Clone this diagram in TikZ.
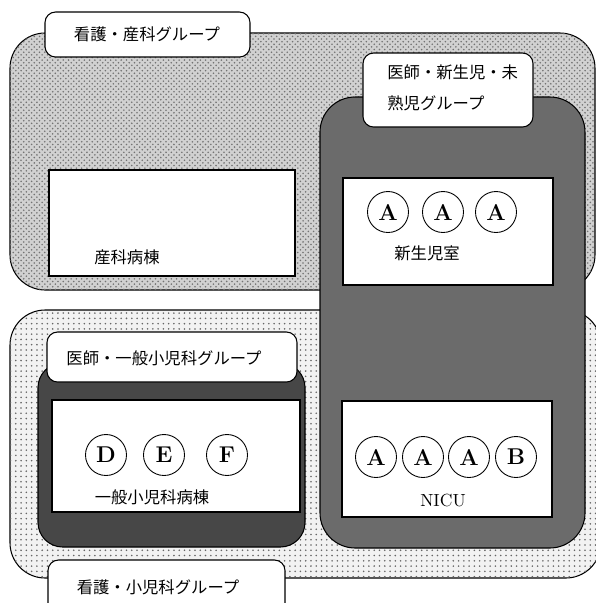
\documentclass[tikz,border=0pt]{standalone}
\usepackage{fontspec}
\newfontfamily\jp{Noto Sans CJK JP}
\usetikzlibrary{patterns}
\tikzset{
	jptext/.style={font=\jp\fontsize{9.3}{17.6}\selectfont, inner sep=0pt},
	patient/.style={draw, circle, fill=white, line width=0.5pt, minimum size=0.82cm, inner sep=0pt, font=\fontsize{13}{13}\selectfont\bfseries},
	tagbox/.style={draw, fill=white, line width=0.6pt, rounded corners=6pt},
	wardbox/.style={draw, fill=white, line width=0.6pt},
}

\begin{document}
\begin{tikzpicture}[x=0.02cm, y=-0.02cm]
			%%%%% START %%%%%
			\clip (0, 0) rectangle (596, 603);
			
			% nursing groups
			\draw[line width=0.6pt, rounded corners=20pt, fill=black!18, postaction={pattern=crosshatch dots, pattern color=black!55}] (10, 33) rectangle (595, 290);
			\draw[line width=0.6pt, rounded corners=20pt, fill=black!5, postaction={pattern=dots, pattern color=black!60}] (10, 310) rectangle (601, 578);
			
			% doctor groups
			\draw[line width=0.6pt, fill=black!58, rounded corners=20pt] (320, 97) rectangle (585, 548);
			\draw[line width=0.6pt, fill=black!72, rounded corners=14pt] (38, 363) rectangle (305, 547);
			
			% group tags
			\draw[tagbox] (45, 12) rectangle (250, 57);
			\node[jptext] (obnurse) at (147, 34) {看護・産科グループ};
			
			\draw[tagbox] (363, 53) rectangle (533, 127);
			\node[jptext, anchor=west, align=left] (neodoc) at (387, 88) {医師・新生児・未\\熟児グループ};
			
			\draw[tagbox] (47, 332) rectangle (297, 382);
			\node[jptext] (peddoc) at (164, 358) {医師・一般小児科グループ};
			
			\draw[tagbox] (48, 560) rectangle (285, 620);
			\node[jptext] (pednurse) at (158, 587) {看護・小児科グループ};
			
			% wards
			\draw[wardbox] (49, 170) rectangle (295, 276);
			\node[jptext] (obward) at (127, 257) {産科病棟};
			
			\draw[wardbox] (343, 178) rectangle (553, 285);
			\foreach \i/\x/\l in {1/388/A, 2/443/A, 3/496/A}
				\node[patient] (nb\i) at (\x, 212) {\l};
			\node[jptext] (nbroom) at (427, 253) {新生児室};
			
			\draw[wardbox] (342, 401) rectangle (552, 517);
			\foreach \i/\x/\l in {1/376/A, 2/423/A, 3/469/A, 4/516/B}
				\node[patient] (ni\i) at (\x, 457) {\l};
			\node[inner sep=0pt] (nicu) at (443, 500) {NICU};
			
			\draw[wardbox] (52, 400) rectangle (300, 512);
			\foreach \i/\x/\l in {1/106/D, 2/164/E, 3/227/F}
				\node[patient] (pd\i) at (\x, 455) {\l};
			\node[jptext] (pedward) at (152, 497) {一般小児科病棟};
			
			%%%%% END %%%%%
\end{tikzpicture}
\end{document}
